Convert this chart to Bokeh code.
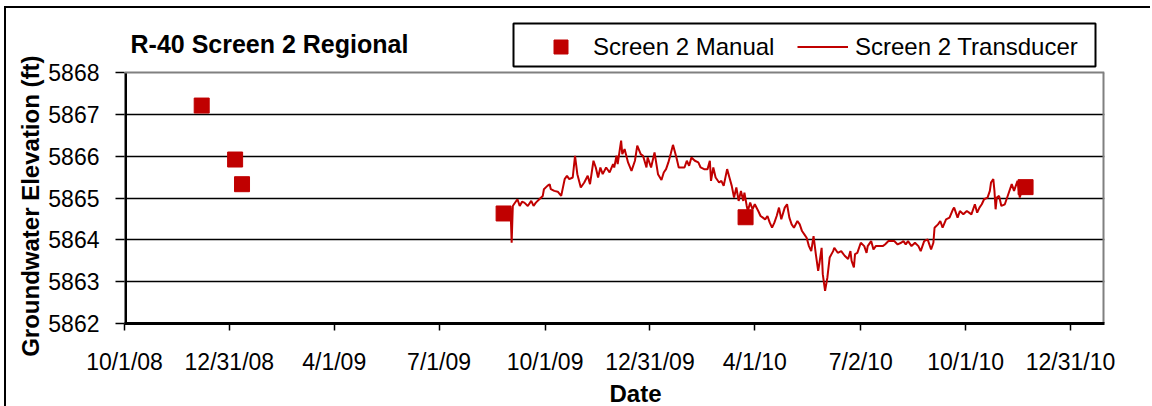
import pandas as pd
from bokeh.plotting import figure
from bokeh.models import (FixedTicker, Label, Legend, LegendItem, Range1d, ColumnDataSource, Span, Title,
                          BoxAnnotation)
from bokeh.embed import file_html
from bokeh.resources import INLINE

# ---------------- data ----------------
title_text = "R-40 Screen 2 Regional"
x_title = "Date"
y_title = "Groundwater Elevation (ft)"
manual_name = "Screen 2 Manual"
trans_name = "Screen 2 Transducer"

manual_dates = ["2008-12-07", "2009-01-05", "2009-01-11", "2009-08-26", "2010-03-24", "2010-11-22"]
manual_elev = [5867.21, 5865.92, 5865.33, 5864.63, 5864.54, 5865.26]

trans_dates = [
    "2009-09-01", "2009-09-02", "2009-09-03", "2009-09-04", "2009-09-07", "2009-09-09", "2009-09-11", "2009-09-13",
    "2009-09-16", "2009-09-19", "2009-09-21", "2009-09-23", "2009-09-26", "2009-09-29", "2009-09-30",
    "2009-10-03", "2009-10-05", "2009-10-06", "2009-10-09", "2009-10-12", "2009-10-15", "2009-10-18", "2009-10-20",
    "2009-10-22", "2009-10-25", "2009-10-27", "2009-10-29",
    "2009-11-01", "2009-11-04", "2009-11-07", "2009-11-09", "2009-11-12", "2009-11-14", "2009-11-16", "2009-11-18",
    "2009-11-20", "2009-11-23", "2009-11-26", "2009-11-29", "2009-11-30",
    "2009-12-02", "2009-12-03", "2009-12-06", "2009-12-07", "2009-12-09", "2009-12-12", "2009-12-15", "2009-12-18",
    "2009-12-20", "2009-12-23", "2009-12-25", "2009-12-28", "2009-12-29",
    "2010-01-01", "2010-01-04", "2010-01-07", "2010-01-10", "2010-01-12", "2010-01-14", "2010-01-16", "2010-01-18",
    "2010-01-20", "2010-01-23", "2010-01-25", "2010-01-27", "2010-01-30",
    "2010-02-01", "2010-02-03", "2010-02-05", "2010-02-08", "2010-02-11", "2010-02-13", "2010-02-16", "2010-02-19",
    "2010-02-21", "2010-02-22", "2010-02-24", "2010-02-26",
    "2010-03-01", "2010-03-03", "2010-03-05", "2010-03-08", "2010-03-10", "2010-03-12", "2010-03-14", "2010-03-16",
    "2010-03-18", "2010-03-20", "2010-03-22", "2010-03-23", "2010-03-25", "2010-03-26", "2010-03-28", "2010-03-30",
    "2010-04-01", "2010-04-04", "2010-04-06", "2010-04-08", "2010-04-10", "2010-04-12", "2010-04-14", "2010-04-16",
    "2010-04-18", "2010-04-20", "2010-04-22", "2010-04-24", "2010-04-27", "2010-04-29",
    "2010-05-01", "2010-05-03", "2010-05-05", "2010-05-08", "2010-05-10", "2010-05-12", "2010-05-14", "2010-05-16",
    "2010-05-18", "2010-05-20", "2010-05-22", "2010-05-24", "2010-05-26", "2010-05-27", "2010-05-29", "2010-05-30",
    "2010-06-01", "2010-06-03", "2010-06-05", "2010-06-08", "2010-06-09", "2010-06-12", "2010-06-15", "2010-06-18",
    "2010-06-21", "2010-06-23", "2010-06-24", "2010-06-26", "2010-06-27", "2010-06-29",
    "2010-07-02", "2010-07-05", "2010-07-07", "2010-07-08", "2010-07-11", "2010-07-13", "2010-07-15", "2010-07-18",
    "2010-07-21", "2010-07-23", "2010-07-26", "2010-07-28", "2010-07-31",
    "2010-08-03", "2010-08-06", "2010-08-08", "2010-08-10", "2010-08-12", "2010-08-15", "2010-08-18", "2010-08-21",
    "2010-08-23", "2010-08-26", "2010-08-29",
    "2010-09-01", "2010-09-03", "2010-09-04", "2010-09-07", "2010-09-09", "2010-09-11", "2010-09-14", "2010-09-17",
    "2010-09-20", "2010-09-21", "2010-09-24", "2010-09-26", "2010-09-29",
    "2010-10-02", "2010-10-04", "2010-10-06", "2010-10-09", "2010-10-11", "2010-10-13", "2010-10-15", "2010-10-17",
    "2010-10-20", "2010-10-22", "2010-10-23", "2010-10-25", "2010-10-26", "2010-10-27", "2010-10-28", "2010-10-30",
    "2010-11-01", "2010-11-04", "2010-11-07", "2010-11-10", "2010-11-12", "2010-11-15", "2010-11-17", "2010-11-20",
    "2010-11-23", "2010-11-26",
]
trans_elev = [
    5864.77, 5863.93, 5864.81, 5864.85, 5864.97, 5864.81, 5864.91, 5864.89, 5864.81, 5864.93, 5864.81, 5864.89,
    5864.97, 5865.05, 5865.21,
    5865.29, 5865.33, 5865.21, 5865.17, 5865.15, 5865.05, 5865.45, 5865.53, 5865.45, 5865.49, 5866.01, 5865.57,
    5865.25, 5865.37, 5865.53, 5865.33, 5865.89, 5865.73, 5865.49, 5865.73, 5865.57, 5865.73, 5865.61, 5865.81,
    5865.73,
    5866.01, 5865.81, 5866.37, 5866.05, 5866.17, 5865.85, 5865.65, 5865.89, 5866.25, 5866.05, 5866.01, 5865.73,
    5865.97,
    5865.73, 5866.09, 5865.57, 5865.43, 5865.61, 5865.69, 5865.85, 5866.05, 5866.27, 5865.97, 5865.73, 5865.73,
    5865.73,
    5865.89, 5865.77, 5865.97, 5865.89, 5865.85, 5865.73, 5865.69, 5865.69, 5865.89, 5865.41, 5865.73, 5865.49,
    5865.37, 5865.41, 5865.29, 5865.69, 5865.49, 5865.29, 5865.01, 5865.25, 5864.93, 5865.17, 5864.93, 5865.13,
    5864.81, 5864.69, 5864.89, 5864.73,
    5864.85, 5864.69, 5864.57, 5864.53, 5864.49, 5864.57, 5864.41, 5864.29, 5864.41, 5864.57, 5864.77, 5864.49,
    5864.77, 5864.85,
    5864.53, 5864.37, 5864.29, 5864.45, 5864.37, 5864.21, 5864.13, 5864.05, 5863.85, 5863.73, 5864.09, 5863.65,
    5863.26, 5863.42, 5863.81, 5863.18,
    5862.78, 5863.10, 5863.58, 5863.73, 5863.81, 5863.69, 5863.73, 5863.62, 5863.54, 5863.73, 5863.50, 5863.34,
    5863.66, 5863.69,
    5863.93, 5863.85, 5863.69, 5863.85, 5863.97, 5863.77, 5863.85, 5863.85, 5863.85, 5863.89, 5863.97, 5863.97,
    5863.97,
    5863.89, 5863.93, 5863.97, 5863.89, 5863.97, 5863.85, 5863.93, 5863.85, 5863.73, 5863.97, 5864.01,
    5863.77, 5863.93, 5864.29, 5864.37, 5864.45, 5864.29, 5864.49, 5864.53, 5864.73, 5864.77, 5864.53, 5864.69,
    5864.61,
    5864.69, 5864.65, 5864.61, 5864.85, 5864.65, 5864.77, 5864.85, 5864.97, 5865.01, 5865.17, 5865.37, 5865.45,
    5865.17, 5864.73, 5865.01, 5865.05,
    5864.81, 5864.85, 5865.09, 5865.33, 5865.17, 5865.41, 5865.01, 5865.30, 5865.35, 5865.28,
]

x_tick_labels = ["10/1/08", "12/31/08", "4/1/09", "7/1/09", "10/1/09", "12/31/09",
                 "4/1/10", "7/2/10", "10/1/10", "12/31/10"]
y_ticks = [5862, 5863, 5864, 5865, 5866, 5867, 5868]
x_start = "2008-10-01"
x_end = "2011-01-29 12:00"
y_view_top = 5869.53   # the frame reaches up into the title band

# ---------------- styles ----------------
RED = "#C00000"
GRAY = "#808080"
FONT = "Liberation Sans"

manual_src = ColumnDataSource(dict(x=pd.to_datetime(manual_dates), y=manual_elev))
trans_src = ColumnDataSource(dict(x=pd.to_datetime(trans_dates), y=trans_elev))
xs, xe = pd.Timestamp(x_start), pd.Timestamp(x_end)

p = figure(width=1146, height=407, x_axis_type="datetime", output_backend="svg",
           toolbar_location=None, tools="",
           x_range=Range1d(xs, xe), y_range=Range1d(y_ticks[0], y_view_top),
           min_border_left=118, min_border_right=48, min_border_top=0, min_border_bottom=92)
p.title.visible = False
p.styles = {"margin-left": "4px", "margin-top": "6px",
            "border-left": "2px solid black", "border-top": "2px solid black",
            "margin-bottom": "-12px"}
p.background_fill_color = "white"
p.border_fill_color = "white"
p.outline_line_color = None

# plot-area border: gray top and right, black left axis line
p.add_layout(Span(location=y_ticks[-1], dimension="width", line_color=GRAY, line_width=2))
p.segment(x0=[xe], y0=[y_ticks[0]], x1=[xe], y1=[y_ticks[-1]], line_color=GRAY, line_width=4)
p.segment(x0=[xs], y0=[y_ticks[0]], x1=[xs], y1=[y_ticks[-1]], line_color="black", line_width=5)

ln = p.line("x", "y", source=trans_src, line_color=RED, line_width=2)
sq = p.scatter("x", "y", source=manual_src, marker="square", size=15,
               fill_color=RED, line_color=RED)

# axes
tick_dt = pd.to_datetime(x_tick_labels, format="%m/%d/%y")
tick_ms = [float(t.value // 10**6) for t in tick_dt]
p.xaxis.ticker = FixedTicker(ticks=tick_ms)
p.xaxis.major_label_overrides = {ms: lab for ms, lab in zip(tick_ms, x_tick_labels)}
p.yaxis.ticker = FixedTicker(ticks=y_ticks)

for ax in (p.xaxis[0], p.yaxis[0]):
    ax.major_label_text_font = FONT
    ax.major_label_text_font_size = "23px"
    ax.major_label_text_color = "black"
    ax.major_tick_line_color = "black"
    ax.major_tick_line_width = 1.5
    ax.major_tick_in = 0
    ax.minor_tick_in = 0
    ax.minor_tick_out = 0
p.xaxis.axis_line_color = "black"
p.xaxis.axis_line_width = 3
p.xaxis.major_tick_out = 7
p.xaxis.major_label_standoff = 18
p.yaxis.axis_line_color = None
p.yaxis.major_tick_out = 9
p.yaxis.major_label_standoff = 16

p.xgrid.visible = False
p.ygrid.ticker = FixedTicker(ticks=y_ticks[1:-1])
p.ygrid.grid_line_color = "black"
p.ygrid.grid_line_width = 1.5

# axis titles in the side panels
y_t = Title(text=y_title, align="right", offset=47, text_font=FONT,
            text_font_size="24px", text_font_style="bold", text_color="black")
x_t = Title(text=x_title, align="left", offset=485, vertical_align="top", text_font=FONT,
            text_font_size="24px", text_font_style="bold", text_color="black")
if hasattr(x_t, "standoff"):
    x_t.standoff = 4
    y_t.standoff = 4
p.add_layout(y_t, "left")
p.add_layout(x_t, "below")

# chart title (inside the extended frame)
p.add_layout(Label(x=6, y=280, x_units="screen", y_units="screen", text=title_text,
                   text_font=FONT, text_font_size="25px", text_font_style="bold",
                   text_color="black", text_baseline="alphabetic", text_align="left"))

# legend box + two legend parts
p.add_layout(BoxAnnotation(left=389, right=971, bottom=257, top=300,
                           left_units="screen", right_units="screen",
                           bottom_units="screen", top_units="screen",
                           fill_color="white", fill_alpha=1.0,
                           line_color="black", line_width=2, line_alpha=1.0))
leg1 = Legend(items=[LegendItem(label=manual_name, renderers=[sq])],
              location=(401, 256), orientation="horizontal", padding=3, margin=0,
              glyph_width=65, glyph_height=35, label_standoff=0,
              border_line_alpha=0, background_fill_alpha=0,
              label_text_font=FONT, label_text_font_size="24px", label_text_color="black")
leg2 = Legend(items=[LegendItem(label=trans_name, renderers=[ln])],
              location=(670, 256), orientation="horizontal", padding=3, margin=0,
              glyph_width=51, glyph_height=35, label_standoff=7,
              border_line_alpha=0, background_fill_alpha=0,
              label_text_font=FONT, label_text_font_size="24px", label_text_color="black")
p.add_layout(leg1, "center")
p.add_layout(leg2, "center")

open("out.html", "w").write(file_html(p, INLINE))
